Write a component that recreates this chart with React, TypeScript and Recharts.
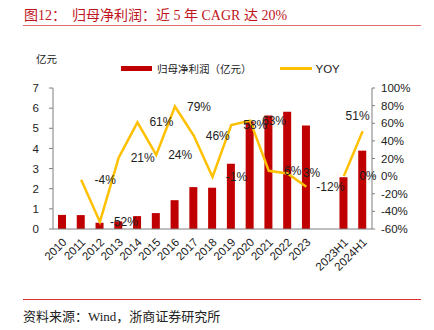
import {
  ComposedChart,
  Bar,
  Line,
  XAxis,
  YAxis,
  Legend,
  LabelList,
} from "recharts";

// categories along the x axis (one empty slot between 2023 and 2023H1)
const categories = [
  "2010", "2011", "2012", "2013", "2014", "2015", "2016", "2017", "2018",
  "2019", "2020", "2021", "2022", "2023", "", "2023H1", "2024H1",
];

// 归母净利润, 亿元
const profit = [
  0.7, 0.69, 0.31, 0.38, 0.64, 0.79, 1.43, 2.08, 2.05,
  3.24, 5.34, 5.64, 5.82, 5.14, null, 2.57, 3.89,
];

// YOY, %
const yoy = [
  null, -4, -52, 21, 61, 24, 79, 46, -1,
  58, 63, 6, 3, -12, null, 0, 51,
];

const leftTicks = [0, 1, 2, 3, 4, 5, 6, 7];
const rightTicks = [-60, -40, -20, 0, 20, 40, 60, 80, 100];
const slotTicks = Array.from({ length: categories.length + 1 }, (_, i) => i);

const data = categories.map((name, i) => ({
  name,
  profit: profit[i],
  yoy: yoy[i],
}));

const sans = "'Liberation Sans', Arial, 'Noto Sans CJK SC', sans-serif";
const cjk = "'Liberation Serif', 'Noto Sans CJK SC', serif";
const axisColor = "#7f7f7f";

const XTick = ({ x, y, payload }: any) => (
  <g transform={`translate(${x + 5},${y + 6})`}>
    <text
      x={0}
      y={0}
      textAnchor="end"
      transform="rotate(-45)"
      fontSize={11.5}
      fontFamily={sans}
      fill="#222"
    >
      {payload.value}
    </text>
  </g>
);

const YoyLabel = ({ x, y, value, index }: any) => {
  if (value === null || value === undefined) return null;
  // last point's label sits above-left, the rest to the right of the point
  const dx = index === categories.length - 1 ? -5 : 24;
  const dy = index === categories.length - 1 ? -15 : 0;
  return (
    <text
      x={x + dx}
      y={y + dy + 4}
      textAnchor="middle"
      fontSize={12}
      fontFamily={sans}
      fill="#222"
    >
      {value}%
    </text>
  );
};

const LegendBox = () => (
  <div
    style={{
      display: "flex",
      alignItems: "center",
      fontSize: 10.5,
      color: "#222",
      fontFamily: sans,
    }}
  >
    <span style={{ width: 31, height: 5, background: "#C00000", marginRight: 5 }} />
    <span>归母净利润（亿元）</span>
    <span style={{ width: 32, height: 3, background: "#FFC000", marginLeft: 28, marginRight: 4 }} />
    <span style={{ fontSize: 11.5 }}>YOY</span>
  </div>
);

export default function App() {
  return (
    <div
      style={{
        position: "absolute",
        left: 0,
        top: 0,
        width: 434,
        height: 330,
        background: "#fff",
        overflow: "hidden",
      }}
    >
      <div
        style={{
          position: "absolute",
          left: 24,
          top: 4,
          fontFamily: cjk,
          fontSize: 14,
          color: "#C0141C",
          whiteSpace: "nowrap",
        }}
      >
        <span>图12：</span>
        <span style={{ position: "absolute", left: 48 }}>
          归母净利润：近 5 年 CAGR 达 20%
        </span>
      </div>
      <div
        style={{
          position: "absolute",
          left: 23,
          top: 25,
          width: 398,
          height: 1,
          background: "#E07070",
        }}
      />
      <div
        style={{
          position: "absolute",
          left: 36,
          top: 51,
          fontFamily: sans,
          fontSize: 10.5,
          color: "#222",
        }}
      >
        亿元
      </div>

      <div style={{ position: "absolute", left: 0, top: 0 }}>
        <ComposedChart
          width={434}
          height={330}
          data={data}
          margin={{ top: 73, right: 12, left: 23, bottom: 41 }}
        >
          <XAxis
            xAxisId="slots"
            type="number"
            domain={[0, categories.length]}
            ticks={slotTicks}
            tick={false}
            axisLine={false}
            tickLine={{ stroke: axisColor }}
            tickSize={4}
            height={0}
            allowDataOverflow
          />
          <XAxis
            dataKey="name"
            xAxisId="cat"
            interval={0}
            tickLine={false}
            axisLine={{ stroke: axisColor }}
            tick={<XTick />}
            height={60}
          />
          <YAxis
            yAxisId="left"
            domain={[0, 7]}
            ticks={leftTicks}
            width={30}
            tickSize={4}
            tickMargin={10}
            axisLine={{ stroke: axisColor }}
            tickLine={{ stroke: axisColor }}
            tick={{ fontSize: 11.5, fill: "#222", fontFamily: sans }}
          />
          <YAxis
            yAxisId="right"
            orientation="right"
            domain={[-60, 100]}
            ticks={rightTicks}
            width={50}
            tickSize={3}
            tickMargin={6}
            tickFormatter={(v) => `${v}%`}
            axisLine={{ stroke: axisColor }}
            tickLine={{ stroke: axisColor }}
            tick={{ fontSize: 11.5, fill: "#222", fontFamily: sans, textAnchor: "start" }}
          />
          <Legend
            verticalAlign="top"
            content={<LegendBox />}
            wrapperStyle={{ position: "absolute", top: 61, left: 121, width: "auto" }}
          />
          <Bar
            xAxisId="cat"
            yAxisId="left"
            dataKey="profit"
            name="归母净利润（亿元）"
            fill="#C00000"
            barSize={8}
            isAnimationActive={false}
          />
          <Line
            xAxisId="cat"
            yAxisId="right"
            dataKey="yoy"
            name="YOY"
            stroke="#FFC000"
            strokeWidth={2.5}
            dot={false}
            activeDot={false}
            isAnimationActive={false}
          >
            <LabelList dataKey="yoy" content={<YoyLabel />} />
          </Line>
        </ComposedChart>
      </div>

      <div
        style={{
          position: "absolute",
          left: 23,
          top: 299,
          width: 398,
          height: 1,
          background: "#D83030",
        }}
      />
      <div
        style={{
          position: "absolute",
          left: 23,
          top: 306,
          fontFamily: cjk,
          fontSize: 13,
          color: "#222",
          whiteSpace: "nowrap",
        }}
      >
        资料来源：Wind，浙商证券研究所
      </div>
    </div>
  );
}
